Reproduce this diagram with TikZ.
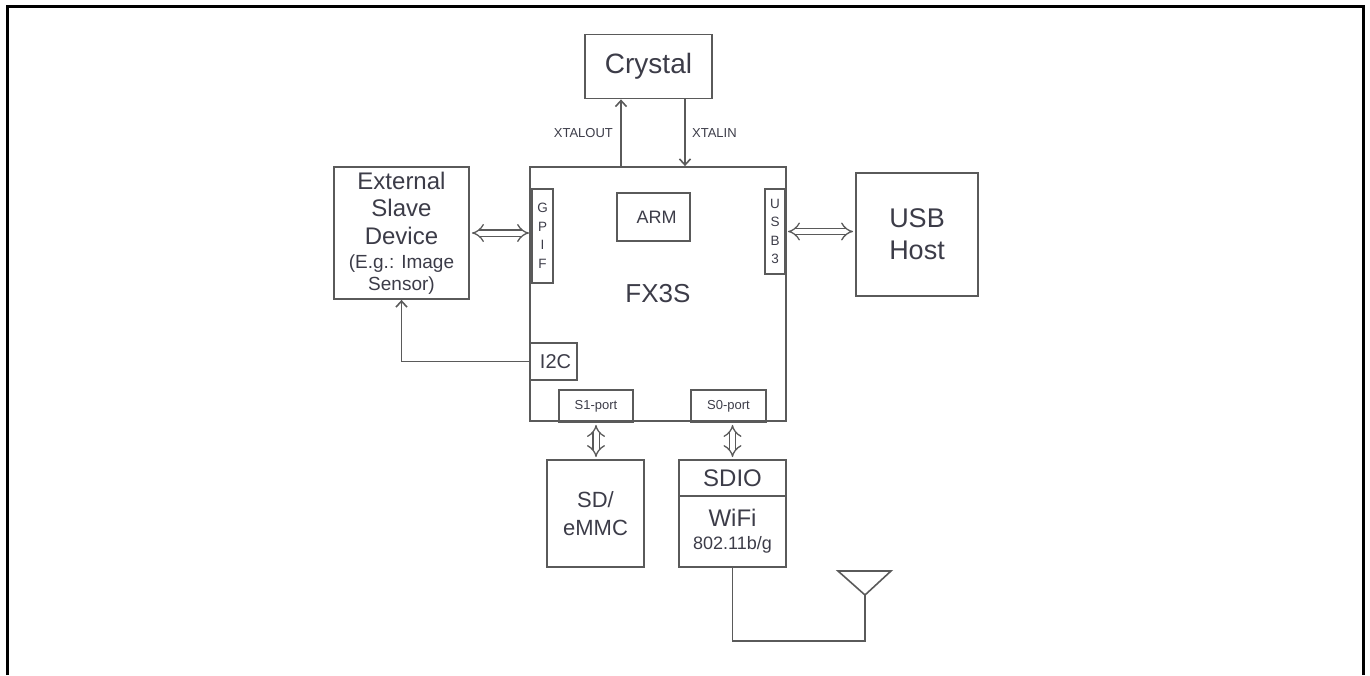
\documentclass[tikz,border=0pt]{standalone}
\usepackage{fontspec}
\setmainfont{Liberation Sans}
\usetikzlibrary{arrows.meta}
\definecolor{txt}{HTML}{3C3C48}
\definecolor{wire}{HTML}{5A5A5A}
\newcommand\egfont{\fontsize{19}{22}\selectfont}
\begin{document}
\begin{tikzpicture}[x=1pt,y=-1pt,
    box/.style={draw=wire,line width=1.8pt,text=txt,align=center,inner sep=0pt},
    big/.style={font=\fontsize{24}{30}\selectfont},
    med/.style={font=\fontsize{18}{22}\selectfont},
    tiny/.style={font=\fontsize{13}{15}\selectfont,text=txt},
    pin/.style={box,font=\fontsize{13.5}{18.5}\selectfont},
    sig/.style={draw=wire,line width=1.6pt,-{Straight Barb[length=6pt,width=11pt]}},
    bus/.style={draw=wire,line width=1.3pt,double=white,double distance=5pt,{Implies}-{Implies},shorten <=2pt,shorten >=2pt}]
    \useasboundingbox (0,0) rectangle (1370,675);
    \draw[line width=3pt] (7.5,675) -- (7.5,6) -- (1363,6) -- (1363,675);
    % boxes
    \node[box,font=\fontsize{28}{32}\selectfont,minimum width=127,minimum height=64] (crystal) at (648.5,66.5) {Crystal};
    \node[box,font=\fontsize{26}{30}\selectfont,minimum width=256,minimum height=254] (fx3s) at (658,294) {\raisebox{-8pt}{FX3S}};
    \node[box,med,minimum width=73,minimum height=48] (arm) at (653.5,217) {\hspace{6pt}ARM};
    \node[pin,minimum width=21,minimum height=94] (gpif) at (542.5,236) {G\\P\\I\\F};
    \node[pin,minimum width=20,minimum height=85] (usb3) at (775,231.5) {U\\S\\B\\3};
    \node[box,font=\fontsize{20}{22}\selectfont,minimum width=47,minimum height=37] (i2c) at (553.5,361.5) {\hspace{4pt}I2C};
    \node[box,tiny,minimum width=74,minimum height=32] (s1) at (596,406) {S1-port};
    \node[box,tiny,minimum width=75,minimum height=32] (s0) at (728.5,406) {S0-port};
    \node[box,font=\fontsize{27}{32}\selectfont,minimum width=122,minimum height=123] (usbhost) at (917,234.5) {USB\\Host};
    \node[box,font=\fontsize{24}{27.5}\selectfont,minimum width=135,minimum height=132] (slave) at (401.5,233)
        {External\\Slave\\Device\\[-3pt]\egfont(E.g.: Image\\[-6pt]\egfont Sensor)};
    \node[box,font=\fontsize{22}{28}\selectfont,minimum width=97,minimum height=107] (sd) at (595.5,513.5) {SD/\\eMMC};
    \node[box,big,minimum width=107,minimum height=36] (sdio) at (732.5,478) {SDIO};
    \node[box,font=\fontsize{24}{23}\selectfont,minimum width=107,minimum height=71] (wifi) at (732.5,531.5)
        {\raisebox{4pt}{WiFi}\\\fontsize{18}{20}\selectfont\raisebox{4pt}{802.11b/g}};
    % crystal signals
    \coordinate (xo) at (621,0);
    \coordinate (xi) at (685,0);
    \draw[sig] (fx3s.north -| xo) -- (crystal.south -| xo) node[midway,left=4pt,tiny] {XTALOUT};
    \draw[sig] (crystal.south -| xi) -- (fx3s.north -| xi) node[midway,right=3pt,tiny] {XTALIN};
    \draw[sig] (i2c.west) -| (slave.south);
    % buses
    \draw[bus] (slave.east) -- (slave.east -| gpif.west);
    \draw[bus] (usb3.east) -- (usb3.east -| usbhost.west);
    \draw[bus] (s1.south) -- (s1.south |- sd.north);
    \draw[bus] (sdio.north |- s0.south) -- (sdio.north);
    % antenna
    \coordinate (ant) at (865,595);
    \draw[wire,line width=1.6pt] (wifi.south) -- ++(0,73) -| (ant);
    \draw[wire,line width=1.6pt,line join=miter] (838,571) -- (891,571) -- (ant) -- cycle;
\end{tikzpicture}
\end{document}
